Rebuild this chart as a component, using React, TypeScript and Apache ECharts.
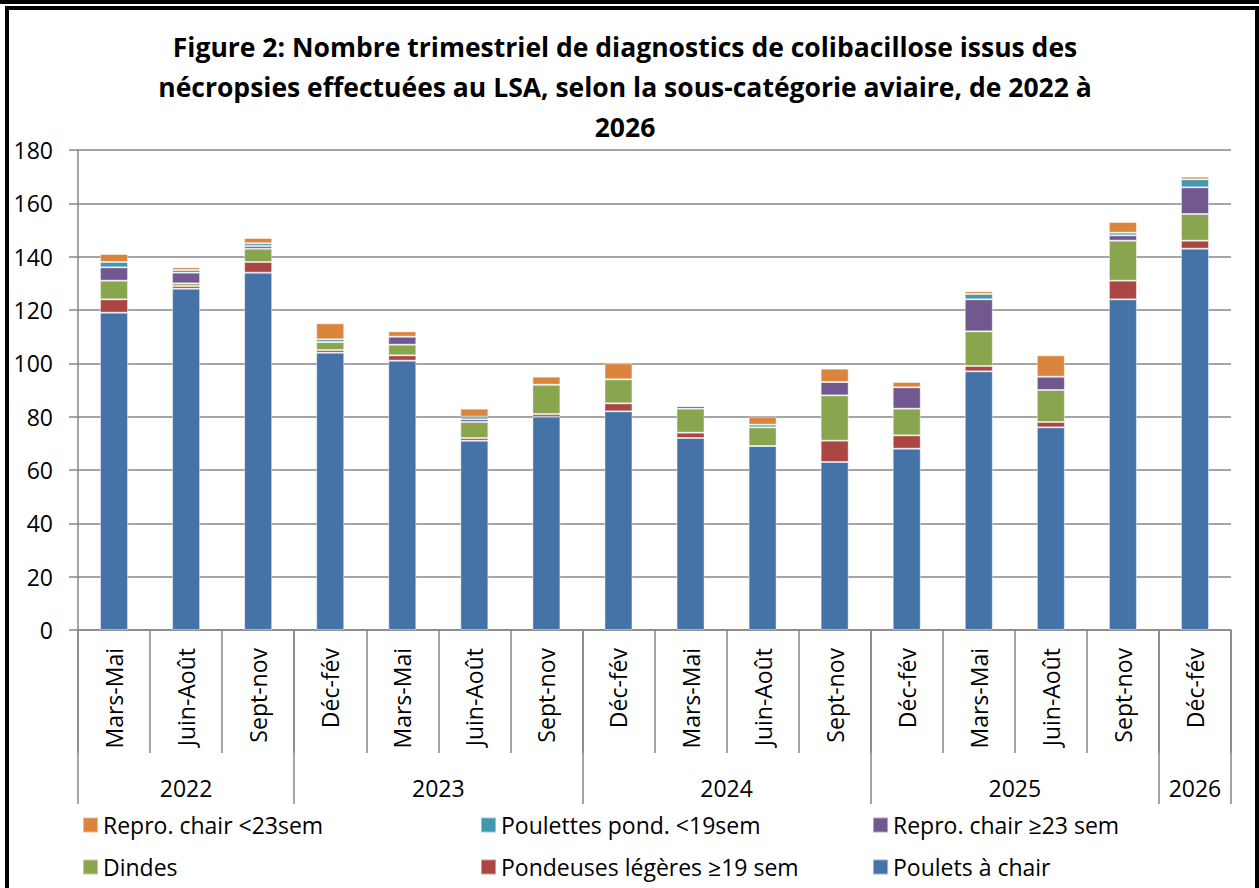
import React, { useEffect, useRef } from "react";
import * as echarts from "echarts";

const categories = [
  "Mars-Mai", "Juin-Août", "Sept-nov",
  "Déc-fév", "Mars-Mai", "Juin-Août", "Sept-nov",
  "Déc-fév", "Mars-Mai", "Juin-Août", "Sept-nov",
  "Déc-fév", "Mars-Mai", "Juin-Août", "Sept-nov",
  "Déc-fév",
];
const years = ["2022", "2023", "2024", "2025", "2026"];
const yearCounts = [3, 4, 4, 4, 1];

const poulets = [119, 128, 134, 104, 101, 71, 80, 82, 72, 69, 63, 68, 97, 76, 124, 143];
const pondeuses = [5, 1, 4, 1, 2, 1, 1, 3, 2, 0, 8, 5, 2, 2, 7, 3];
const dindes = [7, 1, 5, 3, 4, 6, 11, 9, 9, 7, 17, 10, 13, 12, 15, 10];
const reproGe23 = [5, 4, 1, 0, 3, 1, 0, 0, 1, 0, 5, 8, 12, 5, 2, 10];
const poulettes = [2, 1, 1, 1, 0, 1, 0, 0, 0, 1, 0, 0, 2, 0, 1, 3];
const reproLt23 = [3, 1, 2, 6, 2, 3, 3, 6, 0, 3, 5, 2, 1, 8, 4, 1];

const seriesDefs = [
  { name: "Poulets à chair", data: poulets, color: "#4572A7" },
  { name: "Pondeuses légères ≥19 sem", data: pondeuses, color: "#AA4643" },
  { name: "Dindes", data: dindes, color: "#89A54E" },
  { name: "Repro. chair ≥23 sem", data: reproGe23, color: "#71588F" },
  { name: "Poulettes pond. <19sem", data: poulettes, color: "#4198AF" },
  { name: "Repro. chair <23sem", data: reproLt23, color: "#DB843D" },
];

const titleText =
  "Figure 2: Nombre trimestriel de diagnostics de colibacillose issus des\nnécropsies effectuées au LSA, selon la sous-catégorie aviaire, de 2022 à\n2026";

const FONT = "'Open Sans', sans-serif";
const GRID_COLOR = "#878787";

export default function App() {
  const ref = useRef<HTMLDivElement>(null);

  useEffect(() => {
    document.body.style.margin = "0";
    if (!ref.current) return;
    const chart = echarts.init(ref.current, undefined, { renderer: "svg" });

    // year axis: 33 boundary points (0, 0.5, ..., 16 category units)
    const nPts = categories.length * 2 + 1;
    const yearPts: string[] = [];
    for (let i = 0; i < nPts; i++) yearPts.push("p" + i);
    const yearLabelAt: Record<number, string> = {};
    const boundaryIdx: number[] = [0];
    let start = 0;
    yearCounts.forEach((c, k) => {
      yearLabelAt[start * 2 + c] = years[k];
      start += c;
      boundaryIdx.push(start * 2);
    });

    const legendBase = {
      orient: "vertical",
      top: 812,
      padding: 0,
      itemGap: 16,
      itemWidth: 15,
      itemHeight: 15,
      icon: "rect",
      selectedMode: false,
      textStyle: { fontSize: 23, lineHeight: 26, fontFamily: FONT, color: "#000" },
    };

    const option: any = {
      animation: false,
      backgroundColor: "#ffffff",
      textStyle: { fontFamily: FONT },
      title: {
        text: titleText,
        left: 625,
        top: 27,
        padding: 0,
        textAlign: "center",
        textStyle: {
          fontFamily: FONT,
          fontWeight: "bold",
          fontSize: 26.5,
          lineHeight: 40,
          color: "#000",
        },
      },
      grid: { left: 78, right: 28, top: 150, bottom: 258, containLabel: false },
      xAxis: [
        {
          type: "category",
          data: categories,
          position: "bottom",
          axisLine: { show: true, lineStyle: { color: GRID_COLOR, width: 1.5 } },
          axisTick: {
            show: true,
            interval: 0,
            length: 123,
            lineStyle: { color: GRID_COLOR, width: 1.5 },
          },
          axisLabel: {
            interval: 0,
            rotate: 90,
            margin: 18,
            fontSize: 23,
            fontFamily: FONT,
            color: "#000",
          },
        },
        {
          type: "category",
          data: yearPts,
          boundaryGap: false,
          position: "bottom",
          axisLine: { show: false },
          axisTick: {
            show: true,
            interval: (idx: number) => boundaryIdx.indexOf(idx) >= 0,
            length: 174,
            lineStyle: { color: GRID_COLOR, width: 1.5 },
          },
          axisLabel: {
            interval: 0,
            margin: 146,
            fontSize: 23,
            fontFamily: FONT,
            color: "#000",
            formatter: (_v: string, idx: number) => yearLabelAt[idx] || "",
          },
          splitLine: { show: false },
        },
      ],
      yAxis: {
        type: "value",
        min: 0,
        max: 180,
        interval: 20,
        axisLine: { show: true, lineStyle: { color: GRID_COLOR, width: 1.5 } },
        axisTick: { show: true, length: 9, lineStyle: { color: GRID_COLOR, width: 1.5 } },
        axisLabel: { margin: 25, fontSize: 23, fontFamily: FONT, color: "#000" },
        splitLine: { show: true, lineStyle: { color: GRID_COLOR, width: 1.5 } },
      },
      legend: [
        { ...legendBase, data: ["Repro. chair <23sem", "Dindes"], left: 82 },
        { ...legendBase, data: ["Poulettes pond. <19sem", "Pondeuses légères ≥19 sem"], left: 480 },
        { ...legendBase, data: ["Repro. chair ≥23 sem", "Poulets à chair"], left: 872 },
      ],
      series: seriesDefs.map((s) => ({
        name: s.name,
        type: "bar",
        stack: "total",
        xAxisIndex: 0,
        yAxisIndex: 0,
        data: s.data,
        barWidth: 28,
        itemStyle: {
          color: s.color,
          borderColor: "rgba(255,255,255,0.45)",
          borderWidth: 1,
        },
        emphasis: { disabled: true },
      })),
      graphic: [
        {
          type: "rect",
          shape: { x: 0, y: 0, width: 1259, height: 4 },
          style: { fill: "#000" },
          silent: true,
        },
        {
          type: "rect",
          shape: { x: 7, y: 8, width: 1250, height: 900 },
          style: { fill: "none", stroke: "#000", lineWidth: 4 },
          silent: true,
        },
      ],
    };

    chart.setOption(option);
    return () => chart.dispose();
  }, []);

  return (
    <div
      ref={ref}
      style={{ position: "absolute", left: 0, top: 0, width: 1259, height: 888 }}
    />
  );
}
